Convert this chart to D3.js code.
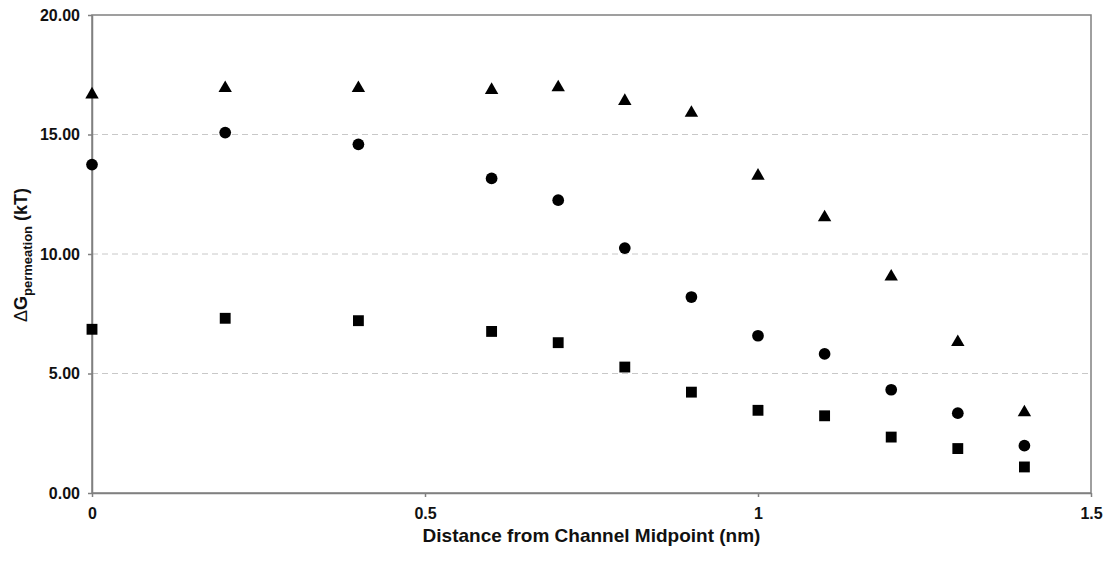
<!doctype html>
<html>
  <head>
    <script src="https://cdn.jsdelivr.net/npm/d3@7/dist/d3.min.js"></script>
    <style>
    body { margin: 0; background: #fff; }
    text { font-family: "Liberation Sans", Arial, sans-serif; font-weight: bold; fill: #111; }
    .grid line { stroke: #c8c8c8; stroke-dasharray: 6,4; }
    .axis path, .axis line { stroke: #808080; stroke-width: 1.5; }
    </style>
  </head>
  <body>
    <svg width="1108" height="562"></svg>
    <script>
      // distance from channel midpoint (nm)
      var distance = [0, 0.2, 0.4, 0.6, 0.7, 0.8, 0.9, 1.0, 1.1, 1.2, 1.3, 1.4];
      var triangleSeries = [16.67, 16.94, 16.94, 16.86, 16.97, 16.4, 15.9, 13.27, 11.53, 9.05, 6.31, 3.37];
      var circleSeries = [13.74, 15.08, 14.59, 13.16, 12.25, 10.25, 8.2, 6.58, 5.82, 4.32, 3.34, 1.98];
      var squareSeries = [6.85, 7.31, 7.21, 6.76, 6.29, 5.27, 4.22, 3.46, 3.23, 2.34, 1.86, 1.09];
      var xTicks = [0, 0.5, 1, 1.5];
      var yTicks = [0, 5, 10, 15, 20];

      var margin = {top: 15, right: 17, bottom: 69, left: 92};
      var width = 1108 - margin.left - margin.right;
      var height = 562 - margin.top - margin.bottom;

      var svg = d3.select("svg");
      var g = svg.append("g").attr("transform", `translate(${margin.left},${margin.top})`);

      var x = d3.scaleLinear().domain([0, 1.5]).range([0, width]);
      var y = d3.scaleLinear().domain([0, 20]).range([height, 0]);

      // dashed gridlines
      g.append("g").attr("class", "grid")
        .selectAll("line")
        .data(yTicks.filter(d => d > 0 && d < 20))
        .enter().append("line")
          .attr("x1", 0).attr("x2", width)
          .attr("y1", d => y(d)).attr("y2", d => y(d));

      // frame
      g.append("rect")
        .attr("width", width).attr("height", height)
        .attr("fill", "none").attr("stroke", "#808080").attr("stroke-width", 1.5);

      var xAxis = g.append("g").attr("class", "axis")
        .attr("transform", `translate(0,${height})`)
        .call(d3.axisBottom(x).tickValues(xTicks).tickSize(4).tickSizeOuter(0).tickFormat(d3.format("")));
      xAxis.selectAll("text").attr("y", 26).attr("dy", 0).style("font-size", "16px");

      var yAxis = g.append("g").attr("class", "axis")
        .call(d3.axisLeft(y).tickValues(yTicks).tickSize(4).tickSizeOuter(0).tickFormat(d3.format(".2f")));
      yAxis.selectAll("text").attr("x", -12).style("font-size", "16px");
      svg.selectAll(".axis text").attr("fill", "#111").style("font-family", null);

      var series = [
        {values: triangleSeries, shape: d3.symbolTriangle, size: 78},
        {values: circleSeries, shape: d3.symbolCircle, size: 108},
        {values: squareSeries, shape: d3.symbolSquare, size: 118}
      ];

      series.forEach(s => {
        g.append("g").selectAll("path")
          .data(distance.map((d, i) => ({x: d, y: s.values[i]})))
          .enter().append("path")
            .attr("d", d3.symbol().type(s.shape).size(s.size))
            .attr("fill", "#000")
            .attr("transform", d => `translate(${x(d.x)},${y(d.y)})`);
      });

      // axis titles
      svg.append("text")
        .attr("x", margin.left + width / 2)
        .attr("y", 542)
        .attr("text-anchor", "middle")
        .style("font-size", "19px")
        .text("Distance from Channel Midpoint (nm)");

      var yTitle = svg.append("text")
        .attr("transform", `translate(27,255) rotate(-90)`)
        .attr("text-anchor", "middle")
        .style("font-size", "18px");
      yTitle.append("tspan").style("font-weight", "normal").text("\u0394");
      yTitle.append("tspan").text("G");
      yTitle.append("tspan").attr("dy", 5).style("font-size", "13px").text("permeation");
      yTitle.append("tspan").attr("dy", -5).text(" (kT)");
    </script>
  </body>
</html>
